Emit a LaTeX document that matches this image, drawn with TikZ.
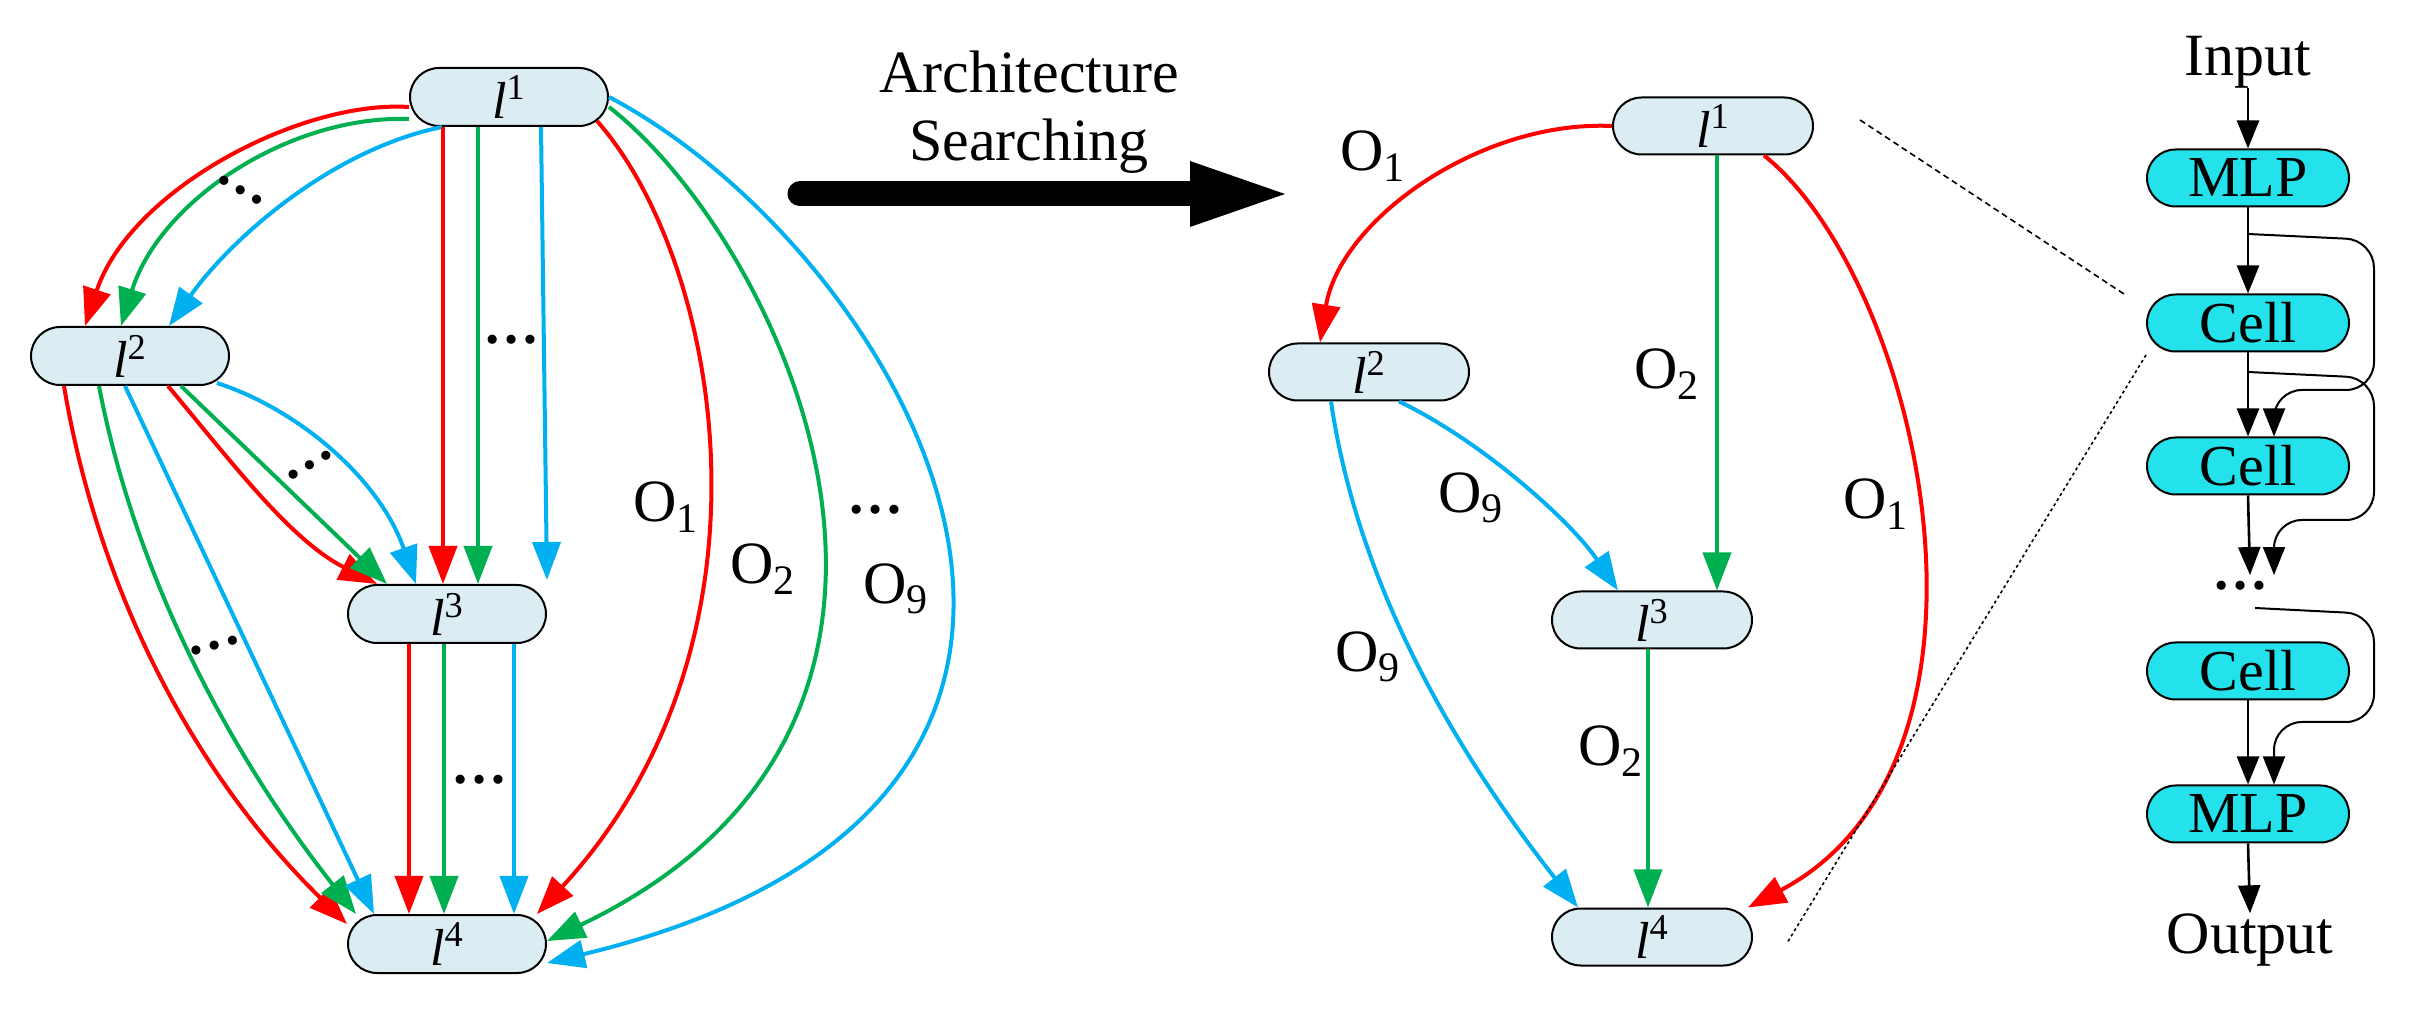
\documentclass[tikz,border=0pt]{standalone}
\usepackage{fontspec}
\setmainfont{Liberation Serif}
\usetikzlibrary{arrows.meta, shapes.misc}
\definecolor{nred}{RGB}{255,0,0}
\definecolor{ngreen}{RGB}{0,176,80}
\definecolor{nblue}{RGB}{0,176,240}
\definecolor{lfill}{RGB}{219,236,242}
\definecolor{cfill}{RGB}{36,226,236}
\newcommand{\lay}[1]{\textit{l}\textsuperscript{#1}}
\newcommand{\op}[1]{O\textsubscript{#1}}
\tikzset{
  lay/.style={draw, line width=1pt, rounded rectangle, fill=lfill, inner sep=0pt,
    minimum width=99pt, minimum height=29pt, font=\fontsize{26}{30}\selectfont},
  blk/.style={draw, line width=1pt, rounded rectangle, fill=cfill, inner sep=0pt,
    minimum width=101pt, minimum height=28.5pt, font=\fontsize{29}{32}\selectfont},
  txt/.style={font=\fontsize{30}{34}\selectfont, inner sep=0pt},
  lbl/.style={font=\fontsize{30}{34}\selectfont, inner sep=0pt},
  dots/.style={font=\fontsize{28}{30}\selectfont\bfseries, inner sep=0pt},
  ed/.style={line width=2pt, -{Triangle[length=19pt,width=14pt]}},
  bk/.style={line width=1.3pt, -{Triangle[length=14pt,width=11pt]}},
  sk/.style={line width=1pt, rounded corners=14pt, -{Triangle[length=14pt,width=11pt]}},
}
\begin{document}
\begin{tikzpicture}[x=0.5pt, y=-0.5pt]
\useasboundingbox (0,0) rectangle (2410,1020);

% ---- left: search space
\node[lay] (l1) at (509,97) {\lay{1}};
\node[lay] (l2) at (130,356) {\lay{2}};
\node[lay] (l3) at (447,614) {\lay{3}};
\node[lay] (l4) at (447,944) {\lay{4}};

\draw[ed, nred] ([yshift=-5pt]l1.west) .. controls (300,100) and (130,190) .. ([xshift=-22.5pt]l2.north);
\draw[ed, ngreen] ([yshift=-11pt]l1.west) .. controls (290,115) and (160,200) .. ([xshift=-4.5pt]l2.north);
\draw[ed, nblue] ([xshift=-33.5pt]l1.south) .. controls (330,150) and (230,240) .. ([xshift=19.5pt]l2.north);

\draw[ed, nred] ([xshift=-33pt]l1.south) -- ([xshift=-2pt]l3.north);
\draw[ed, ngreen] ([xshift=-15.5pt]l1.south) -- ([xshift=15.5pt]l3.north);
\draw[ed, nblue] ([xshift=16pt]l1.south) -- ([xshift=50pt,yshift=2pt]l3.north);

\draw[ed, nred] ([xshift=44pt,yshift=3pt]l1.south) .. controls (720,260) and (790,640) .. ([xshift=45pt]l4.north);
\draw[ed, ngreen] ([yshift=-5pt]l1.east) .. controls (780,240) and (1010,720) .. ([yshift=1.5pt]l4.east);
\draw[ed, nblue] (l1.east) .. controls (900,250) and (1223,800) .. ([yshift=-9.5pt]l4.east);

\draw[ed, nred] ([xshift=19pt]l2.south) .. controls (230,460) and (290,540) .. (l3.north west);
\draw[ed, ngreen] ([xshift=25.5pt]l2.south) -- ([xshift=-30pt]l3.north);
\draw[ed, nblue] ([xshift=43.5pt,yshift=1.5pt]l2.south) .. controls (300,410) and (380,480) .. ([xshift=-15.5pt]l3.north);

\draw[ed, nred] ([xshift=-33pt]l2.south) .. controls (100,600) and (200,780) .. ([yshift=10pt]l4.west);
\draw[ed, ngreen] ([xshift=-15.5pt]l2.south) .. controls (140,600) and (250,780) .. ([xshift=-45.5pt]l4.north);
\draw[ed, nblue] ([xshift=-2.5pt]l2.south) -- ([xshift=-36.5pt]l4.north);

\draw[ed, nred] ([xshift=-19pt]l3.south) -- ([xshift=-19pt]l4.north);
\draw[ed, ngreen] ([xshift=-1.5pt]l3.south) -- ([xshift=-1.5pt]l4.north);
\draw[ed, nblue] ([xshift=33.5pt]l3.south) -- ([xshift=33.5pt]l4.north);

\node[dots, rotate=-30] at (241,190) {\ldots};
\node[dots] at (511,340) {\ldots};
\node[dots, rotate=30] at (310,465) {\ldots};
\node[dots, rotate=15] at (215,646) {\ldots};
\node[dots] at (479,780) {\ldots};
\node[dots] at (875,510) {\ldots};
\node[lbl] at (666,507) {\op{1}};
\node[lbl] at (763,569) {\op{2}};
\node[lbl] at (896,589) {\op{9}};

% ---- search arrow
\node[txt] (t1) at (1029,72) {Architecture};
\node[txt] (t2) at (1029,146) {Searching};
\draw[line width=12.5pt, line cap=round] (800,194) -- (1200,194);
\fill (1190,161) -- (1285,194) -- (1190,227) -- cycle;

% ---- right: searched architecture
\node[lay, minimum height=28.5pt, minimum width=100pt] (r1) at (1713,126) {\lay{1}};
\node[lay, minimum height=28.5pt, minimum width=100pt] (r2) at (1369,372) {\lay{2}};
\node[lay, minimum height=28.5pt, minimum width=100pt] (r3) at (1652,620) {\lay{3}};
\node[lay, minimum height=28.5pt, minimum width=100pt] (r4) at (1652,937) {\lay{4}};

\draw[ed, nred] (r1.west) .. controls (1480,120) and (1340,220) .. ([xshift=-24.5pt]r2.north);
\draw[ed, ngreen] ([xshift=2pt]r1.south) -- ([xshift=32.5pt]r3.north);
\draw[ed, nred] (r1.-30) .. controls (1920,280) and (2027,760) .. ([xshift=48pt]r4.north);
\draw[ed, nblue] ([xshift=15pt]r2.south) .. controls (1480,440) and (1570,520) .. ([xshift=-17pt]r3.north);
\draw[ed, nblue] ([xshift=-19pt]r2.south) .. controls (1360,600) and (1470,770) .. ([xshift=-37pt]r4.north);
\draw[ed, ngreen] ([xshift=-2pt]r3.south) -- ([xshift=-2pt]r4.north);

\node[lbl] at (1373,156) {\op{1}};
\node[lbl] at (1667,374) {\op{2}};
\node[lbl] at (1471,498) {\op{9}};
\node[lbl] at (1368,657) {\op{9}};
\node[lbl] at (1611,751) {\op{2}};
\node[lbl] at (1876,504) {\op{1}};

% ---- zoom lines
\coordinate (z1) at (1860,120);
\coordinate (z2) at (2127,296);
\coordinate (z3) at (2146,355);
\coordinate (z4) at (1787,943);
\draw[line width=0.8pt, dash pattern=on 3pt off 2pt] (z1) -- (z2);
\draw[line width=0.8pt, dash pattern=on 1.5pt off 1.5pt] (z3) -- (z4);

% ---- cell chain
\node[txt] (in) at (2248,62) {Input};
\node[blk] (m1) at (2248,178) {MLP};
\node[blk] (c1) at (2248,323) {Cell};
\node[blk] (c2) at (2248,466) {Cell};
\node[dots, inner sep=1pt] (dt) at (2240,586) {\ldots};
\node[blk] (c3) at (2248,671) {Cell};
\node[blk] (m2) at (2248,814) {MLP};
\node[txt] (out) at (2250,940) {Output};

\draw[bk] (in.south) -- (m1.north);
\draw[bk] (m1.south) -- (c1.north);
\draw[bk] (c1.south) -- (c2.north);
\draw[bk] (c2.south) -- ([xshift=5pt,yshift=2pt]dt.north);
\draw[bk] (c3.south) -- (m2.north);
\draw[bk] (m2.south) -- (out.north);

\coordinate (s1) at (2248,234);
\coordinate (s2) at (2248,372);
\coordinate (s3) at (2255,608);
\draw[sk] (s1) -- (2374,240) -- (2374,390) -- (2274,390) -- ([xshift=13pt]c2.north);
\draw[sk] (s2) -- (2374,378) -- (2374,520) -- (2274,520) -- ([xshift=17pt,yshift=2pt]dt.north);
\draw[sk] (s3) -- (2374,614) -- (2374,722) -- (2274,722) -- ([xshift=13pt]m2.north);
\end{tikzpicture}
\end{document}
